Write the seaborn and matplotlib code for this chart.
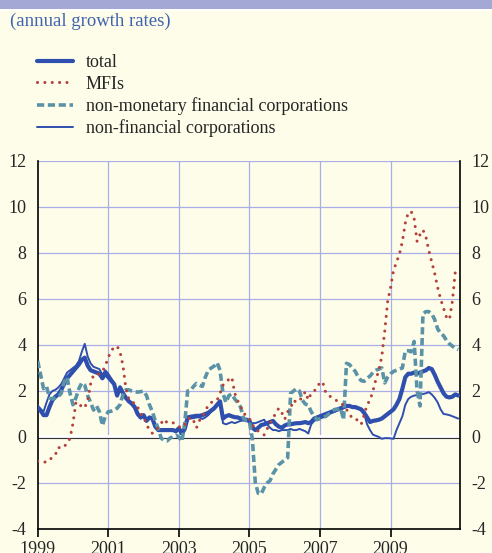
import numpy as np
import pandas as pd
import matplotlib
matplotlib.use('Agg')
import matplotlib.pyplot as plt
import seaborn as sns

# monthly annual growth rates, Jan 1999 - Dec 2010
total = [
    1.3, 1.15, 0.95, 0.95, 1.3, 1.6, 1.75, 1.85, 2.05, 2.3, 2.55, 2.7,
    2.85, 3.0, 3.15, 3.35, 3.45, 3.1, 2.9, 2.85, 2.8, 2.75, 2.55, 2.75,
    2.6, 2.45, 2.3, 1.8, 2.15, 1.9, 1.7, 1.55, 1.45, 1.3, 1.0, 0.85,
    0.95, 0.7, 0.85, 0.8, 0.45, 0.3, 0.3, 0.3, 0.3, 0.3, 0.3, 0.25,
    0.38, 0.15, 0.35, 0.85, 0.88, 0.9, 0.92, 0.92, 0.95, 1.0, 1.05, 1.15,
    1.25, 1.4, 1.55, 0.8, 0.9, 0.95, 0.9, 0.86, 0.85, 0.8, 0.77, 0.75,
    0.7, 0.4, 0.3, 0.4, 0.52, 0.55, 0.6, 0.65, 0.7, 0.55, 0.45, 0.4,
    0.5, 0.55, 0.55, 0.58, 0.6, 0.6, 0.62, 0.65, 0.6, 0.65, 0.8, 0.85,
    0.9, 0.95, 1.0, 1.05, 1.1, 1.15, 1.2, 1.25, 1.3, 1.35, 1.35, 1.3,
    1.3, 1.25, 1.2, 1.05, 0.85, 0.65, 0.7, 0.72, 0.75, 0.8, 0.9, 1.0,
    1.1, 1.2, 1.4, 1.65, 2.1, 2.6, 2.75, 2.75, 2.8, 2.75, 2.8, 2.85,
    2.9, 3.0, 2.95, 2.7, 2.4, 2.15, 1.9, 1.75, 1.72, 1.75, 1.85, 1.8,
]
mfis = [
    -1.05, -1.05, -1.08, -1.1, -1.0, -0.88, -0.78, -0.45, -0.5, -0.4, -0.3, -0.05,
    0.6, 1.5, 1.5, 1.28, 1.28, 1.6, 2.3, 2.7, 2.7, 2.75, 2.85, 3.1,
    3.45, 3.75, 3.9, 3.95, 3.7, 3.1, 2.1, 1.65, 1.5, 1.48, 1.3, 1.0,
    0.9, 0.55, 0.3, 0.16, 0.3, 0.4, 0.6, 0.77, 0.62, 0.6, 0.62, 0.55,
    0.45, 0.4, 0.52, 0.75, 0.86, 0.71, 0.4, 0.71, 0.91, 1.1, 1.4, 1.5,
    1.55, 1.6, 1.9, 2.25, 2.4, 2.5, 2.6, 1.9, 1.58, 1.32, 1.05, 0.9,
    0.8, 0.55, 0.3, 0.26, 0.2, 0.09, 0.35, 0.6, 0.8, 1.06, 1.25, 1.06,
    0.77, 1.1, 1.25, 1.6, 1.5, 1.58, 1.75, 1.97, 1.61, 1.9, 2.0, 2.12,
    2.4, 2.35, 1.9, 1.8, 1.72, 1.65, 1.54, 1.45, 1.39, 1.2, 1.0, 0.81,
    0.8, 0.7, 0.55, 0.96, 1.4, 1.6, 2.0, 2.5, 2.9, 3.5, 4.6, 5.9,
    6.5, 7.25, 7.6, 7.95, 8.5, 9.3, 9.75, 9.8, 9.5, 8.5, 8.8, 9.0,
    8.7, 8.1, 7.6, 7.1, 6.5, 6.0, 5.6, 5.2, 5.1, 5.9, 7.2, 7.0,
]
nmfc = [
    3.3, 2.7, 2.1, 2.2, 1.7, 1.65, 1.7, 1.75, 1.9, 2.4, 2.6, 1.9,
    1.4, 1.7, 2.1, 2.35, 2.25, 1.8, 1.5, 1.17, 1.35, 1.1, 0.5, 0.9,
    1.1, 1.12, 1.17, 1.25, 1.4, 1.85, 2.05, 2.05, 2.0, 1.97, 1.95, 1.97,
    2.0, 1.8, 1.4, 1.1, 0.7, 0.35, -0.05, -0.15, -0.17, -0.05, 0.01, 0.08,
    0.0, -0.2, 0.6, 2.0, 2.03, 2.2, 2.33, 2.25, 2.2, 2.6, 2.9, 3.0,
    3.08, 3.23, 2.9, 1.9, 1.5, 1.8, 1.87, 1.65, 1.5, 1.3, 0.8, 0.7,
    0.67, -0.1, -2.0, -2.45, -2.48, -2.2, -2.0, -1.9, -1.6, -1.4, -1.2, -1.1,
    -1.0, -0.9, 1.9, 2.0, 2.1, 2.0, 1.6, 1.43, 1.39, 1.1, 0.9, 0.75,
    0.8, 0.85, 0.9, 1.0, 1.1, 1.2, 1.2, 1.25, 0.75, 3.2, 3.15, 3.0,
    2.85, 2.6, 2.45, 2.42, 2.55, 2.65, 2.8, 2.9, 2.95, 3.0, 2.35, 2.6,
    2.75, 2.85, 2.9, 2.95, 3.0, 3.75, 3.75, 3.7, 4.15, 2.0, 1.35, 5.35,
    5.45, 5.45, 5.35, 5.1, 4.7, 4.5, 4.4, 4.2, 4.05, 3.95, 3.85, 3.8,
]
nfc = [
    1.3, 1.2, 1.1, 1.5, 1.85, 2.0, 2.05, 2.15, 2.3, 2.55, 2.8, 2.9,
    3.0, 3.1, 3.3, 3.7, 4.05, 3.5, 3.2, 3.05, 3.0, 2.95, 2.7, 2.9,
    2.75, 2.55, 2.35, 1.85, 2.2, 1.95, 1.75, 1.55, 1.4, 1.25, 1.0, 0.8,
    0.9, 0.7, 0.85, 0.78, 0.5, 0.35, 0.3, 0.3, 0.28, 0.3, 0.3, 0.25,
    0.35, 0.1, 0.3, 0.8, 0.8, 0.82, 0.85, 0.85, 0.78, 0.85, 0.95, 1.1,
    1.2, 1.35, 1.55, 0.6, 0.55, 0.6, 0.65, 0.6, 0.65, 0.7, 0.72, 0.7,
    0.65, 0.6, 0.6, 0.65, 0.7, 0.75, 0.55, 0.4, 0.3, 0.3, 0.25, 0.3,
    0.3, 0.3, 0.35, 0.3, 0.3, 0.35, 0.3, 0.25, 0.15, 0.55, 0.7, 0.75,
    0.8, 0.85, 0.9, 1.0, 1.05, 1.1, 1.15, 1.2, 1.25, 1.3, 1.35, 1.3,
    1.25, 1.25, 1.2, 1.0, 0.55, 0.3, 0.1, 0.05, 0.0, -0.08, -0.05, -0.05,
    -0.06, -0.08, 0.3, 0.6, 0.9, 1.4, 1.65, 1.75, 1.8, 1.82, 1.85, 1.87,
    1.9, 1.95, 1.85, 1.7, 1.5, 1.2, 1.0, 0.98, 0.95, 0.9, 0.85, 0.8,
]
year_ticks = [1999, 2001, 2003, 2005, 2007, 2009]
y_ticks = [-4, -2, 0, 2, 4, 6, 8, 10, 12]

cream = '#FEFDEA'
blue = '#2E4FAE'
red = '#B5403A'
teal = '#5A93A8'
grid = '#A9AEE6'

sns.set_style('white', {'axes.facecolor': cream})
plt.rcParams['font.family'] = ['Liberation Serif', 'DejaVu Serif']

df = pd.DataFrame({'month': np.arange(len(total)), 'total': total, 'mfis': mfis,
                   'nmfc': nmfc, 'nfc': nfc})

fig = plt.figure(figsize=(4.92, 5.53), dpi=100, facecolor=cream)
ax = fig.add_axes([0.0766, 0.0434, 0.8584, 0.6656])
ax.set_facecolor(cream)

# top band
fig.add_artist(plt.Rectangle((0, 1 - 9 / 553), 1, 9 / 553, transform=fig.transFigure,
                             color='#A3A8D5', lw=0))
fig.add_artist(plt.Rectangle((0, 1 - 11 / 553), 1, 2 / 553, transform=fig.transFigure,
                             color='white', lw=0))
fig.text(10 / 492, 1 - 21 / 553, '(annual growth rates)', color='#4063B0',
         fontsize=13.5, va='center', ha='left')

# grid and zero line
for y in y_ticks[1:]:
    ax.axhline(y, color=grid, lw=0.9, zorder=0)
for yr in year_ticks[1:]:
    ax.axvline((yr - 1999) * 12, color=grid, lw=0.9, zorder=0)
ax.axhline(0.04, color='white', lw=2.0, zorder=1)
ax.axhline(-0.05, color='#333333', lw=0.8, zorder=1)

sns.lineplot(data=df, x='month', y='total', ax=ax, color=blue, lw=3.0,
             label='total', zorder=3)
sns.lineplot(data=df, x='month', y='nfc', ax=ax, color=blue, lw=1.4,
             label='non-financial corporations', zorder=4)
sns.lineplot(data=df, x='month', y='nmfc', ax=ax, color=teal, lw=2.6,
             linestyle=(0, (2.0, 1.0)), label='non-monetary financial corporations', zorder=5)
sns.lineplot(data=df, x='month', y='mfis', ax=ax, color=red, lw=2.2,
             linestyle=(0, (0.01, 2.4)), dash_capstyle='round',
             label='MFIs', zorder=6)

ax.set_xlim(0, 143.6)
ax.set_ylim(-4, 12)
ax.set_xticks([(yr - 1999) * 12 for yr in year_ticks])
ax.set_xticklabels([str(yr) for yr in year_ticks])
ax.set_yticks(y_ticks)
ax.set_yticklabels([str(v) for v in y_ticks])
ax.set_xlabel('')
ax.set_ylabel('')
ax.tick_params(axis='x', direction='out', length=6, width=1.2, color='black',
               labelsize=13, pad=3, bottom=True)
ax.tick_params(axis='y', length=0, labelsize=13, pad=8, left=False,
               labelleft=True, labelright=True)
for s in ['left', 'right', 'bottom']:
    ax.spines[s].set_color('black')
    ax.spines[s].set_linewidth(1.2)
ax.spines['top'].set_visible(False)

handles, labels = ax.get_legend_handles_labels()
order = [0, 3, 2, 1]
ax.legend([handles[i] for i in order], [labels[i] for i in order],
          loc='upper left', bbox_to_anchor=(37 / 492, 1 - 54 / 553),
          bbox_transform=fig.transFigure, frameon=False, fontsize=13,
          handlelength=2.0, handletextpad=0.7, labelspacing=0.25,
          borderpad=0, borderaxespad=0)

fig.savefig('out.png', dpi=100, facecolor=cream)
